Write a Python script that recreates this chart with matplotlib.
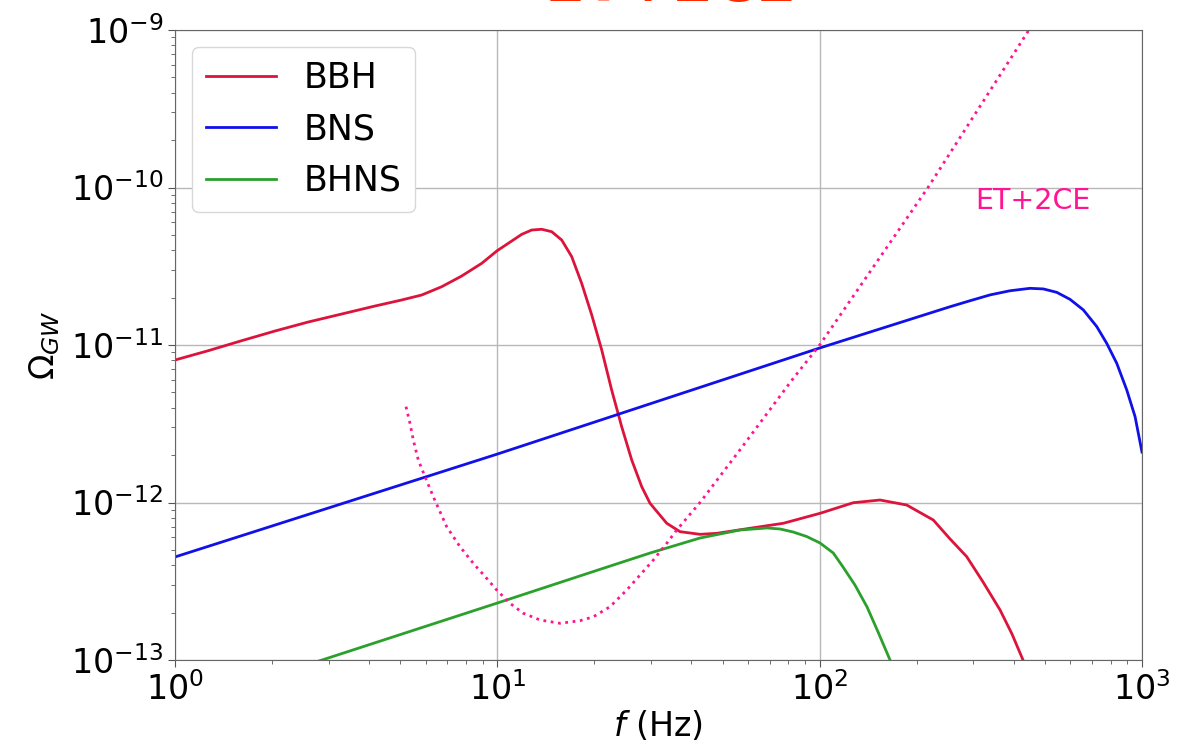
import matplotlib
matplotlib.use("Agg")
import matplotlib.pyplot as plt

# Stochastic background spectra, Omega_GW(f)
bbh_f = [1.0, 1.268, 1.610, 2.043, 2.592, 3.290, 4.173, 5.050, 5.827, 6.722, 7.753,
         8.944, 9.99, 10.81, 11.90, 12.78, 13.73, 14.75, 15.84, 17.01, 18.27, 19.63,
         21.08, 22.63, 24.31, 26.12, 28.05, 29.77, 33.54, 36.87, 42.54, 47.93, 60.80,
         77.14, 100.3, 127.2, 153.9, 186.2, 225.2, 253.8, 285.9, 321.2, 362.7, 395.2,
         427.4, 449.3]
bbh_omega = [8.03e-12, 9.20e-12, 1.065e-11, 1.227e-11, 1.40e-11, 1.573e-11, 1.768e-11,
             1.931e-11, 2.077e-11, 2.345e-11, 2.742e-11, 3.30e-11, 3.97e-11, 4.42e-11,
             5.04e-11, 5.37e-11, 5.43e-11, 5.24e-11, 4.64e-11, 3.64e-11, 2.46e-11,
             1.55e-11, 9.30e-12, 5.18e-12, 3.03e-12, 1.86e-12, 1.26e-12, 9.88e-13,
             7.38e-13, 6.53e-13, 6.28e-13, 6.37e-13, 6.86e-13, 7.38e-13, 8.54e-13,
             9.97e-13, 1.037e-12, 9.64e-13, 7.74e-13, 5.87e-13, 4.53e-13, 3.13e-13,
             2.08e-13, 1.46e-13, 1.0e-13, 7.46e-14]

bns_f = [1.0, 10.0, 100.0, 253.8, 292.7, 337.7, 389.5, 449.3, 494.1, 543.8, 597.9,
         657.7, 723.6, 777.2, 835.0, 896.9, 951.7, 1000.0]
bns_omega = [4.51e-13, 2.03e-12, 9.57e-12, 1.75e-11, 1.91e-11, 2.08e-11, 2.21e-11,
             2.29e-11, 2.27e-11, 2.16e-11, 1.95e-11, 1.67e-11, 1.31e-11, 1.025e-11,
             7.65e-12, 5.18e-12, 3.51e-12, 2.09e-12]

bhns_f = [2.5, 2.86, 10.0, 20.8, 29.8, 42.54, 49.07, 56.61, 68.63, 75.34, 82.67,
          91.19, 100.3, 110.2, 118.1, 128.7, 140.3, 151.7, 165.3, 171.3]
bhns_omega = [9.2e-14, 1.0e-13, 2.30e-13, 3.76e-13, 4.78e-13, 5.95e-13, 6.31e-13,
              6.69e-13, 6.89e-13, 6.79e-13, 6.50e-13, 6.08e-13, 5.53e-13, 4.78e-13,
              3.90e-13, 2.99e-13, 2.17e-13, 1.51e-13, 1.0e-13, 8.03e-14]

pi_f = [5.208, 5.359, 5.487, 5.686, 5.965, 6.329, 6.965, 7.659, 8.422, 9.268, 9.954,
        10.95, 12.04, 13.57, 15.65, 18.05, 19.85, 22.37, 25.20, 27.71, 30.47, 33.54,
        36.02, 42.54, 56.6, 82.1, 100.0, 216.8, 439.8, 470.0]
pi_omega = [4.06e-12, 3.18e-12, 2.49e-12, 1.86e-12, 1.458e-12, 1.088e-12, 7.02e-13,
            5.24e-13, 4.11e-13, 3.30e-13, 2.78e-13, 2.29e-13, 1.98e-13, 1.795e-13,
            1.71e-13, 1.776e-13, 1.88e-13, 2.18e-13, 2.78e-13, 3.46e-13, 4.31e-13,
            5.51e-13, 6.69e-13, 1.0e-12, 2.16e-12, 6.0e-12, 1.0e-11, 1.0e-10,
            9.57e-10, 1.2e-9]

series_labels = ["BBH", "BNS", "BHNS"]
network_label = "ET+2CE"

fig = plt.figure(figsize=(12.02, 7.52), dpi=100)
ax = fig.add_axes([175 / 1202, 1 - 660 / 752, (1142 - 175) / 1202, (660 - 30) / 752])

ax.loglog(bbh_f, bbh_omega, color="crimson", lw=2, label=series_labels[0])
ax.loglog(bns_f, bns_omega, color="#1010e8", lw=2, label=series_labels[1])
ax.loglog(bhns_f, bhns_omega, color="#2ca02c", lw=2, label=series_labels[2])
ax.loglog(pi_f, pi_omega, color="deeppink", lw=2, ls=":")

ax.set_xlim(1, 1000)
ax.set_ylim(1e-13, 1e-9)
ax.grid(True, which="major", color="#b8b8b8", lw=1)

ax.text(303, 8.2e-11, network_label, color="deeppink", fontsize=20.5, va="center", ha="left")

ax.tick_params(axis="both", which="major", labelsize=24, length=5, color="#555555")
ax.tick_params(axis="both", which="minor", length=3, color="#555555")
for sp in ax.spines.values():
    sp.set_color("#666666")

ax.set_xlabel(r"$f$ (Hz)", fontsize=24, labelpad=2)
ax.set_ylabel(r"$\Omega_{GW}$", fontsize=24, labelpad=6)

ax.legend(loc="upper left", fontsize=25, framealpha=1.0, edgecolor="#d8d8d8")

# Panel title sits above the canvas; only the lower edge of its glyphs shows
fig.text(671 / 1202, 1 - 0.5 / 752, network_label, color="#ff2a00", fontsize=42,
         fontweight="bold", ha="center", va="baseline")

fig.savefig("out.png", dpi=100)
